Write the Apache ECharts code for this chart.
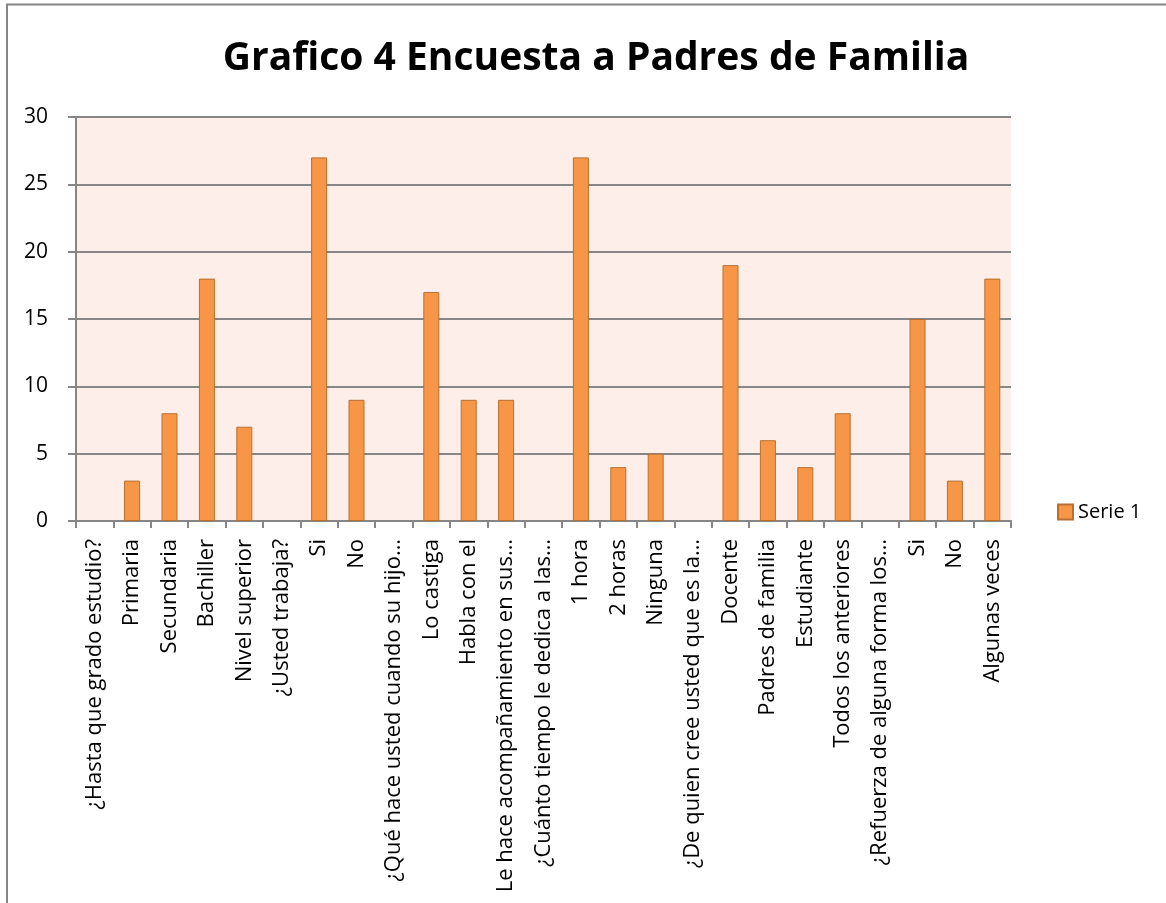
<!DOCTYPE html>
<html>
<head>
<meta charset="utf-8">
<script src="https://cdn.jsdelivr.net/npm/echarts@6/dist/echarts.min.js"></script>
<style>
html,body{margin:0;padding:0;background:#fff;}
#chart{width:1166px;height:903px;}
</style>
</head>
<body>
<div id="chart"></div>
<script>
const categories = [
  "¿Hasta que grado estudio?", "Primaria", "Secundaria", "Bachiller", "Nivel superior",
  "¿Usted trabaja?", "Si", "No", "¿Qué hace usted cuando su hijo…", "Lo castiga",
  "Habla con el", "Le hace acompañamiento en sus…", "¿Cuánto tiempo le dedica a las…", "1 hora", "2 horas",
  "Ninguna", "¿De quien cree usted que es la…", "Docente", "Padres de familia", "Estudiante",
  "Todos los anteriores", "¿Refuerza de alguna forma los…", "Si", "No", "Algunas veces"
];
const serie1 = [0, 3, 8, 18, 7, 0, 27, 9, 0, 17, 9, 9, 0, 27, 4, 5, 0, 19, 6, 4, 8, 0, 15, 3, 18];
const yTicks = { min: 0, max: 30, interval: 5 };
const titleText = "Grafico 4 Encuesta a Padres de Familia";
const seriesName = "Serie 1";

const chart = echarts.init(document.getElementById('chart'));
const font = "'Open Sans', 'Liberation Sans', sans-serif";
chart.setOption({
  animation: false,
  backgroundColor: '#ffffff',
  title: {
    text: titleText,
    left: 591, top: 34, textAlign: 'center',
    textStyle: { fontFamily: font, fontWeight: 'bold', fontSize: 39, color: '#000' }
  },
  legend: {
    data: [seriesName],
    left: 1052, top: 497,
    itemWidth: 15, itemHeight: 15, itemGap: 6,
    icon: 'rect',
    textStyle: { fontFamily: font, fontSize: 20, color: '#000' }
  },
  graphic: [
    { type: 'line', shape: { x1: 7, y1: 4, x2: 7, y2: 903 }, style: { stroke: '#868686', lineWidth: 2 } },
    { type: 'line', shape: { x1: 6, y1: 4.5, x2: 1166, y2: 4.5 }, style: { stroke: '#868686', lineWidth: 2 } }
  ],
  grid: {
    left: 76, right: 155, top: 117, bottom: 382,
    show: true, backgroundColor: '#FDEEE9', borderWidth: 0
  },
  xAxis: {
    type: 'category',
    data: categories,
    axisLine: { show: true, lineStyle: { color: '#868686', width: 2 } },
    axisTick: { show: true, alignWithLabel: false, length: 7, lineStyle: { color: '#868686', width: 2 } },
    axisLabel: {
      interval: 0, rotate: 90, margin: 18,
      fontFamily: font, fontSize: 22, color: '#000'
    },
    splitLine: { show: false }
  },
  yAxis: {
    type: 'value',
    min: yTicks.min, max: yTicks.max, interval: yTicks.interval,
    axisLine: { show: true, lineStyle: { color: '#868686', width: 2 } },
    axisTick: { show: true, length: 8, lineStyle: { color: '#868686', width: 2 } },
    axisLabel: { margin: 28, fontFamily: font, fontSize: 21, color: '#000' },
    splitLine: { show: true, lineStyle: { color: '#868686', width: 2 } }
  },
  series: [{
    name: seriesName,
    type: 'bar',
    data: serie1.map(v => v === 0 ? { value: v, itemStyle: { borderWidth: 0 } } : v),
    barWidth: 16,
    itemStyle: { color: '#F79646', borderColor: '#B8702F', borderWidth: 1 }
  }]
});
</script>
</body>
</html>
